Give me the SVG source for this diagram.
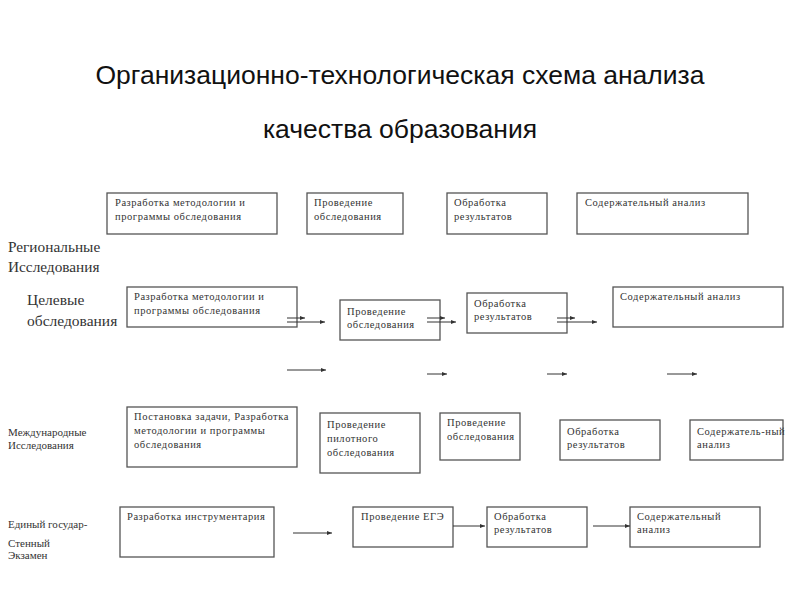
<svg xmlns="http://www.w3.org/2000/svg" width="800" height="600" viewBox="0 0 800 600">
<defs>
<marker id="ah" markerWidth="6" markerHeight="6" refX="5" refY="3" orient="auto" markerUnits="userSpaceOnUse">
<path d="M0,1 L5,3 L0,5 Z" fill="#333"/>
</marker>
<style>
.box{fill:#fff;stroke:#555;stroke-width:1.3}
.t{font-family:"Liberation Serif","DejaVu Serif",serif;font-size:10.5px;letter-spacing:0.55px;fill:#333}
.lbl{font-family:"Liberation Serif","DejaVu Serif",serif;fill:#333}
.title{font-family:"Liberation Sans",Arial,sans-serif;font-size:26.5px;fill:#111;text-anchor:middle}
.c{stroke:#333;stroke-width:1;fill:none;marker-end:url(#ah)}
</style>
</defs>
<rect width="800" height="600" fill="#fff"/>
<text class="title" x="400" y="84">Организационно-технологическая схема анализа</text>
<text class="title" x="400" y="138">качества образования</text>

<g id="labels">
<text class="lbl" font-size="15.3" x="8" y="252">Региональные</text>
<text class="lbl" font-size="15.3" x="8" y="272">Исследования</text>
<text class="lbl" font-size="15.5" x="27" y="305">Целевые</text>
<text class="lbl" font-size="15.5" x="27" y="326">обследования</text>
<text class="lbl" font-size="11" x="8" y="436">Международные</text>
<text class="lbl" font-size="11" x="8" y="449">Исследования</text>
<text class="lbl" font-size="11" x="8" y="528">Единый государ-</text>
<text class="lbl" font-size="11" x="8" y="547">Стенный</text>
<text class="lbl" font-size="11" x="8" y="559">Экзамен</text>
</g>

<g id="r1a"><rect class="box" x="107" y="193" width="170" height="41"/><text class="t" x="115" y="206">Разработка методологии и</text><text class="t" x="115" y="220">программы обследования</text></g>
<g id="r1b"><rect class="box" x="307" y="193" width="96" height="41"/><text class="t" x="314" y="206">Проведение</text><text class="t" x="314" y="220">обследования</text></g>
<g id="r1c"><rect class="box" x="447" y="193" width="100" height="41"/><text class="t" x="454" y="206">Обработка</text><text class="t" x="454" y="220">результатов</text></g>
<g id="r1d"><rect class="box" x="577" y="193" width="171" height="41"/><text class="t" x="585" y="206">Содержательный анализ</text></g>

<g id="r2a"><rect class="box" x="127" y="287" width="170" height="40"/><text class="t" x="134" y="300">Разработка методологии и</text><text class="t" x="134" y="314">программы обследования</text></g>
<g id="r2b"><rect class="box" x="340" y="300" width="100" height="40"/><text class="t" x="347" y="315">Проведение</text><text class="t" x="347" y="328">обследования</text></g>
<g id="r2c"><rect class="box" x="467" y="293" width="100" height="40"/><text class="t" x="474" y="307">Обработка</text><text class="t" x="474" y="320">результатов</text></g>
<g id="r2d"><rect class="box" x="613" y="287" width="170" height="40"/><text class="t" x="620" y="300">Содержательный анализ</text></g>

<g id="r3a"><rect class="box" x="127" y="407" width="170" height="60"/><text class="t" x="134" y="420">Постановка задачи, Разработка</text><text class="t" x="134" y="434">методологии и программы</text><text class="t" x="134" y="448">обследования</text></g>
<g id="r3b"><rect class="box" x="320" y="413" width="100" height="60"/><text class="t" x="327" y="428">Проведение</text><text class="t" x="327" y="442">пилотного</text><text class="t" x="327" y="456">обследования</text></g>
<g id="r3c"><rect class="box" x="440" y="413" width="80" height="47"/><text class="t" x="447" y="426">Проведение</text><text class="t" x="447" y="440">обследования</text></g>
<g id="r3d"><rect class="box" x="560" y="420" width="100" height="40"/><text class="t" x="567" y="435">Обработка</text><text class="t" x="567" y="448">результатов</text></g>
<g id="r3e"><rect class="box" x="690" y="420" width="93" height="40"/><text class="t" x="697" y="435">Содержатель-ный</text><text class="t" x="697" y="448">анализ</text></g>

<g id="r4a"><rect class="box" x="120" y="507" width="154" height="50"/><text class="t" x="127" y="520">Разработка инструментария</text></g>
<g id="r4b"><rect class="box" x="353" y="507" width="100" height="40"/><text class="t" x="361" y="520">Проведение ЕГЭ</text></g>
<g id="r4c"><rect class="box" x="487" y="507" width="100" height="40"/><text class="t" x="494" y="520">Обработка</text><text class="t" x="494" y="533">результатов</text></g>
<g id="r4d"><rect class="box" x="630" y="507" width="130" height="40"/><text class="t" x="637" y="520">Содержательный</text><text class="t" x="637" y="533">анализ</text></g>

<g id="connectors">
<line class="c" x1="287" y1="318" x2="305" y2="318"/>
<line class="c" x1="287" y1="322" x2="325" y2="322"/>
<line class="c" x1="427" y1="318" x2="445" y2="318"/>
<line class="c" x1="427" y1="322" x2="456" y2="322"/>
<line class="c" x1="557" y1="318" x2="575" y2="318"/>
<line class="c" x1="557" y1="322" x2="597" y2="322"/>
<line class="c" x1="287" y1="370" x2="326" y2="370"/>
<line class="c" x1="427" y1="374" x2="447" y2="374"/>
<line class="c" x1="547" y1="374" x2="567" y2="374"/>
<line class="c" x1="667" y1="374" x2="697" y2="374"/>
<line class="c" x1="293" y1="533" x2="332" y2="533"/>
<line class="c" x1="453" y1="526" x2="485" y2="526"/>
<line class="c" x1="593" y1="526" x2="630" y2="526"/>
</g>
</svg>
